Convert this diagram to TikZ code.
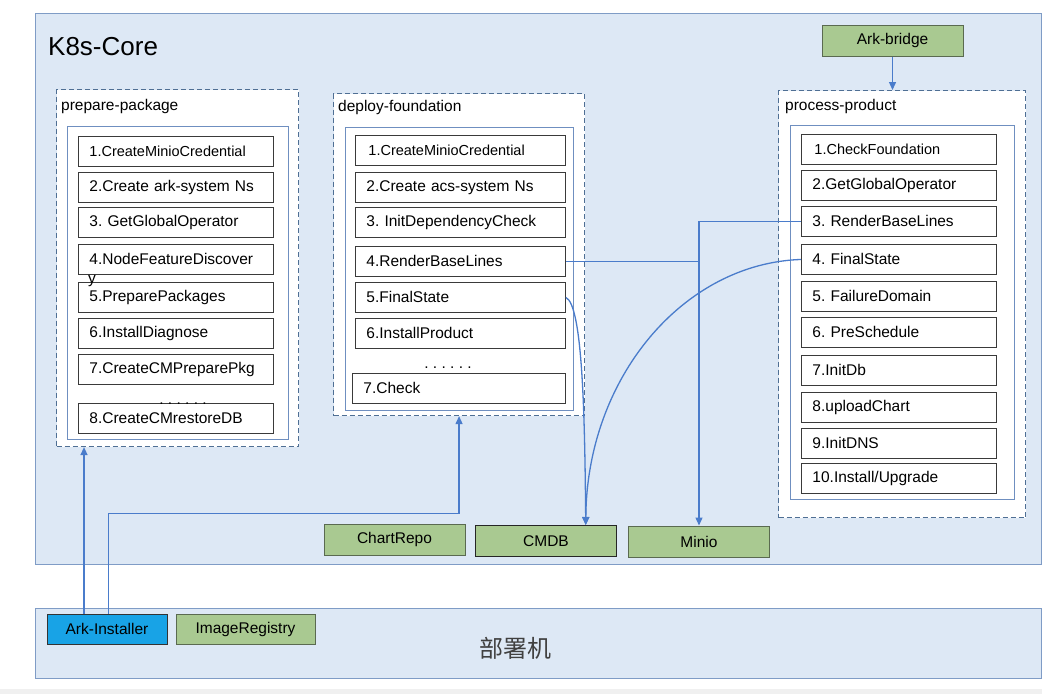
\documentclass[tikz,border=0pt]{standalone}
\usepackage{fontspec}
\setmainfont{Liberation Sans}
\newfontfamily\cjkfont{Noto Sans CJK SC}
\usetikzlibrary{arrows.meta,calc}
\definecolor{k8sfill}{HTML}{DDE8F5}
\definecolor{k8sline}{HTML}{7F9CC6}
\definecolor{dashline}{HTML}{4F6F94}
\definecolor{innerline}{HTML}{6F8FC0}
\definecolor{itemline}{HTML}{3A3A3A}
\definecolor{greenfill}{HTML}{A9C991}
\definecolor{greenline}{HTML}{5A6A50}
\definecolor{installerfill}{HTML}{18A3E6}
\definecolor{arrowcol}{HTML}{4A7CCB}
\frenchspacing
\begin{document}
\begin{tikzpicture}[x=1pt,y=-1pt,
  k8sbox/.style={draw=k8sline, fill=k8sfill, line width=1.3pt, anchor=north west, inner sep=0pt},
  dashbox/.style={draw=dashline, fill=white, line width=1.1pt, dash pattern=on 5pt off 3pt, anchor=north west, inner sep=0pt},
  innerbox/.style={draw=innerline, fill=white, line width=1.2pt, anchor=north west, inner sep=0pt},
  stepitem/.style={draw=itemline, fill=white, line width=0.9pt, anchor=north west, minimum height=30pt, inner xsep=11pt, inner ysep=0pt, text width=#1, align=left, font=\fontsize{15.5}{18}\selectfont\frenchspacing},
  boxlabel/.style={anchor=west, inner sep=0pt, font=\fontsize{15.5}{18}\selectfont},
  dotrow/.style={anchor=base, inner sep=0pt, font=\fontsize{15.5}{18}\selectfont},
  greenbox/.style={draw=greenline, fill=greenfill, line width=1pt, minimum width=141pt, minimum height=31pt, inner sep=0pt, font=\fontsize{15.5}{18}\selectfont},
  arrowline/.style={draw=arrowcol, line width=1.3pt, -{Triangle[width=7pt,length=8pt]}},
  plainline/.style={draw=arrowcol, line width=1.3pt}
]
\useasboundingbox (0,0) rectangle (1042,694);
\fill[white] (0,0) rectangle (1042,694);
\fill[black!6] (0,689) rectangle (1042,694);

% K8s-Core
\node[k8sbox, minimum width=1006pt, minimum height=551pt] (k8s) at (35,13) {};
\node[anchor=west, inner sep=0pt, font=\fontsize{26}{31}\selectfont] (k8slabel) at (48,47) {K8s-Core};

% prepare-package
\node[dashbox, minimum width=242pt, minimum height=357pt] (pp) at (56,89) {};
\node[boxlabel] (pplabel) at (61,106) {prepare-package};
\node[innerbox, minimum width=221pt, minimum height=313pt] (ppin) at (67,126) {};
\node[stepitem=173pt] (p1) at (78,136) {\fontsize{14.5}{17}\selectfont 1.CreateMinioCredential};
\node[stepitem=173pt] (p2) at (78,172) {2.Create ark-system Ns};
\node[stepitem=173pt] (p3) at (78,207) {3. GetGlobalOperator};
\node[stepitem=173pt] (p4) at (78,244) {4.NodeFeatureDiscover};
\node[stepitem=173pt] (p5) at (78,282) {5.PreparePackages};
\node[anchor=base west, inner sep=0pt, font=\fontsize{15.5}{18}\selectfont] (p4y) at ($(p4.north west)+(10,39)$) {y};
\node[stepitem=173pt] (p6) at (78,318) {6.InstallDiagnose};
\node[stepitem=173pt] (p7) at (78,354) {7.CreateCMPreparePkg};
\node[stepitem=173pt] (p8) at (78,403) {8.CreateCMrestoreDB};
\node[dotrow] (pdots) at (183,404) {. . . . . .};

% deploy-foundation
\node[dashbox, minimum width=251pt, minimum height=322pt] (df) at (333,93) {};
\node[boxlabel] (dflabel) at (338,107) {deploy-foundation};
\node[innerbox, minimum width=228pt, minimum height=283pt] (dfin) at (345,127) {};
\node[stepitem=188pt] (d1) at (355,135) {\fontsize{14.5}{17}\selectfont\hspace*{2pt}1.CreateMinioCredential};
\node[stepitem=188pt] (d2) at (355,172) {2.Create acs-system Ns};
\node[stepitem=188pt] (d3) at (355,207) {3. InitDependencyCheck};
\node[stepitem=188pt] (d4) at (355,246) {4.RenderBaseLines};
\node[stepitem=188pt] (d5) at (355,282) {5.FinalState};
\node[stepitem=188pt] (d6) at (355,318) {6.InstallProduct};
\node[dotrow] (ddots) at (448,368) {. . . . . .};
\node[stepitem=191pt] (d7) at (352,373) {7.Check};

% process-product
\node[dashbox, minimum width=247pt, minimum height=427pt] (pr) at (778,90) {};
\node[boxlabel] (prlabel) at (785,106) {process-product};
\node[innerbox, minimum width=224pt, minimum height=374pt] (prin) at (790,125) {};
\node[stepitem=173pt] (r1) at (801,134) {\fontsize{14.5}{17}\selectfont\hspace*{2pt}1.CheckFoundation};
\node[stepitem=173pt] (r2) at (801,170) {2.GetGlobalOperator};
\node[stepitem=173pt] (r3) at (801,206) {3. RenderBaseLines};
\node[stepitem=173pt] (r4) at (801,244) {4. FinalState};
\node[stepitem=173pt] (r5) at (801,281) {5. FailureDomain};
\node[stepitem=173pt] (r6) at (801,317) {6. PreSchedule};
\node[stepitem=173pt] (r7) at (801,355) {7.InitDb};
\node[stepitem=173pt] (r8) at (801,392) {8.uploadChart};
\node[stepitem=173pt] (r9) at (801,428) {9.InitDNS};
\node[stepitem=173pt] (r10) at (801,463) {10.Install/Upgrade};

% services
\node[greenbox] (ab) at (892.5,40.5) {Ark-bridge};
\node[greenbox] (cr) at (394.5,539.5) {ChartRepo};
\node[greenbox, draw=black!85] (cm) at (546,541) {CMDB};
\node[greenbox] (mi) at (699,541.5) {Minio};

% deploy machine
\node[k8sbox, minimum width=1006pt, minimum height=70pt] (dm) at (35,608) {};
\node[inner sep=0pt, text=black!75, font=\cjkfont\fontsize{24}{28}\selectfont] (dmlabel) at (515,648) {部署机};
\node[greenbox, fill=installerfill, draw=black!80, minimum width=120pt, minimum height=30pt] (ai) at (107,629) {Ark-Installer};
\node[greenbox, minimum width=139pt, minimum height=30pt] (ir) at (245.5,629) {ImageRegistry};

% connectors
\coordinate (a1) at ($(ai.north west)!0.31!(ai.north east)$);
\coordinate (a2) at ($(ai.north west)!0.51!(ai.north east)$);
\draw[arrowline] (a1) -- (a1 |- pp.south);
\draw[arrowline] (a2) -- ++(0,-100) -| (df.south);
\draw[arrowline] (ab.south) -- (ab.south |- pr.north);
\draw[arrowline] (r3.west) -| (mi.north);
\draw[plainline] (d4.east) -- (d4.east -| mi.north);
\coordinate (cmtip) at ($(cm.north west)!0.78!(cm.north east)$);
\draw[arrowline] (d5.east) .. controls +(17,8) and +(-1,-106) .. (cmtip);
\draw[arrowline] (r4.west) .. controls +(-118,4) and +(1,-147) .. (cmtip);
\end{tikzpicture}
\end{document}
